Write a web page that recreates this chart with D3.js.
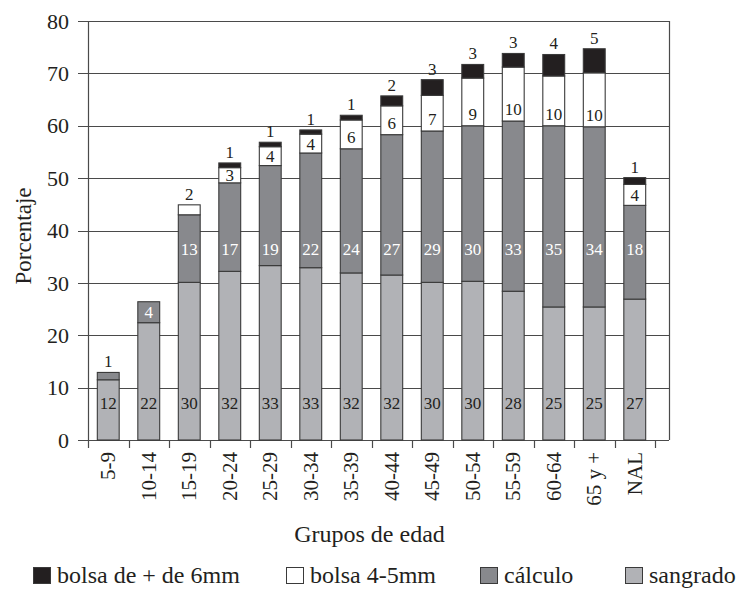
<!DOCTYPE html>
<html>
<head>
<meta charset="utf-8">
<script src="https://cdn.jsdelivr.net/npm/d3@7"></script>
<style>
  html, body { margin: 0; padding: 0; background: #fff; }
  svg { display: block; }
  text { font-family: "Liberation Serif", "DejaVu Serif", serif; fill: #231f20; }
</style>
</head>
<body>
<svg id="chart" width="741" height="589"></svg>
<script>
// ---- data ----
const categories = ["5-9","10-14","15-19","20-24","25-29","30-34","35-39","40-44","45-49","50-54","55-59","60-64","65 y +","NAL"];
const sangrado = [11.5, 22.4, 30.1, 32.2, 33.3, 32.9, 31.9, 31.5, 30.1, 30.3, 28.4, 25.4, 25.4, 26.9];
const calculo  = [1.4, 4.0, 12.9, 16.9, 19.1, 21.9, 23.7, 26.8, 28.9, 29.7, 32.5, 34.6, 34.4, 17.9];
const bolsa45  = [0, 0, 1.9, 2.9, 3.6, 3.6, 5.5, 5.5, 6.8, 9.1, 10.3, 9.5, 10.3, 4.0];
const bolsa6   = [0, 0, 0, 0.9, 0.85, 0.8, 0.9, 1.9, 3.0, 2.6, 2.6, 4.1, 4.6, 1.3];
const yTicks = [0, 10, 20, 30, 40, 50, 60, 70, 80];
const seriesKeys = ["sangrado", "calculo", "bolsa45", "bolsa6"];
const legendLabels = ["bolsa de + de 6mm", "bolsa 4-5mm", "cálculo", "sangrado"];
const legendKeys = ["bolsa6", "bolsa45", "calculo", "sangrado"];
const xTitle = "Grupos de edad";
const yTitle = "Porcentaje";

// ---- styles ----
const colors = { sangrado: "#b1b2b6", calculo: "#88898d", bolsa45: "#ffffff", bolsa6: "#231f20" };
const ink = "#231f20";
const gridColor = "#4a4a4a";

const table = categories.map((c, i) => ({
  cat: c, sangrado: sangrado[i], calculo: calculo[i], bolsa45: bolsa45[i], bolsa6: bolsa6[i]
}));

const svg = d3.select("#chart");
const plotLeft = 88, plotRight = 669, plotTop = 21, plotBottom = 440, bandEnd = 655;

const y = d3.scaleLinear().domain([0, 80]).range([plotBottom, plotTop]);
const x = d3.scaleBand().domain(categories).range([plotLeft, bandEnd]).paddingInner(0.46).paddingOuter(0.23);
const step = x.step();

// gridlines
svg.append("g").selectAll("line").data(yTicks).join("line")
  .attr("x1", plotLeft - 10).attr("x2", plotRight)
  .attr("y1", d => Math.round(y(d)) + 0.5).attr("y2", d => Math.round(y(d)) + 0.5)
  .attr("stroke", gridColor).attr("stroke-width", 1.2);

// right border
svg.append("line").attr("x1", plotRight + 0.5).attr("x2", plotRight + 0.5)
  .attr("y1", y(80)).attr("y2", y(0)).attr("stroke", gridColor).attr("stroke-width", 1.2);

// left axis line
svg.append("line").attr("x1", plotLeft + 0.5).attr("x2", plotLeft + 0.5)
  .attr("y1", y(80)).attr("y2", y(0) + 8).attr("stroke", gridColor).attr("stroke-width", 1.2);

// x boundary ticks
const boundaries = categories.map(c => x(c) - x.paddingInner() * step / 2 + step);
svg.append("g").selectAll("line").data(boundaries).join("line")
  .attr("x1", d => Math.round(d) + 0.5).attr("x2", d => Math.round(d) + 0.5)
  .attr("y1", y(0)).attr("y2", y(0) + 8)
  .attr("stroke", gridColor).attr("stroke-width", 1.2);

// y tick labels
svg.append("g").selectAll("text").data(yTicks).join("text")
  .attr("x", 69).attr("y", d => y(d)).attr("dy", "0.35em")
  .attr("text-anchor", "end").attr("font-size", 22).text(d => d);

// stacked bars
const stack = d3.stack().keys(seriesKeys)(table);
const bars = svg.append("g");
stack.forEach(layer => {
  bars.append("g").selectAll("rect").data(layer.filter(d => d[1] - d[0] > 0)).join("rect")
    .attr("x", d => x(d.data.cat))
    .attr("width", x.bandwidth())
    .attr("y", d => y(d[1]))
    .attr("height", d => y(d[0]) - y(d[1]))
    .attr("fill", colors[layer.key])
    .attr("stroke", "#3a3a3a").attr("stroke-width", 1.1);
});

// labels
const labels = svg.append("g");
stack.forEach(layer => {
  layer.forEach(d => {
    const v = d[1] - d[0];
    if (v <= 0) return;
    const cx = x(d.data.cat) + x.bandwidth() / 2;
    const segTop = y(d[1]), segBot = y(d[0]);
    const h = segBot - segTop;
    let ty, fill = ink;
    const key = layer.key;
    if (key === "bolsa6" || h < 14) {
      ty = segTop - 11;
    } else if (key === "sangrado") {
      ty = y(7);
    } else if (key === "calculo") {
      ty = Math.max(y(36.5), segTop + 10);
      fill = "#ffffff";
    } else {
      ty = Math.max((segTop + segBot) / 2, segBot - 12);
    }
    labels.append("text")
      .attr("x", cx).attr("y", ty).attr("dy", "0.35em")
      .attr("text-anchor", "middle").attr("font-size", 17)
      .style("fill", fill)
      .text(Math.round(v));
  });
});

// x tick labels (rotated)
svg.append("g").selectAll("text").data(categories).join("text")
  .attr("transform", d => `translate(${x(d) + x.bandwidth() / 2 + 7},${y(0) + 12}) rotate(-90)`)
  .attr("text-anchor", "end").attr("font-size", 21).text(d => d);

// axis titles
svg.append("text").attr("x", (plotLeft + plotRight) / 2 - 9).attr("y", 542)
  .attr("text-anchor", "middle").attr("font-size", 24).text(xTitle);
svg.append("text").attr("transform", `translate(31,236) rotate(-90)`)
  .attr("text-anchor", "middle").attr("font-size", 23).text(yTitle);

// legend
const legendX = [33, 286, 480, 625];
const legend = svg.append("g");
legendKeys.forEach((k, i) => {
  legend.append("rect").attr("x", legendX[i] + 0.5).attr("y", 567.5).attr("width", 17).attr("height", 16)
    .attr("fill", colors[k]).attr("stroke", "#3a3a3a").attr("stroke-width", 1);
  legend.append("text").attr("x", legendX[i] + 24).attr("y", 583)
    .attr("font-size", 24).text(legendLabels[i]);
});
</script>
</body>
</html>
